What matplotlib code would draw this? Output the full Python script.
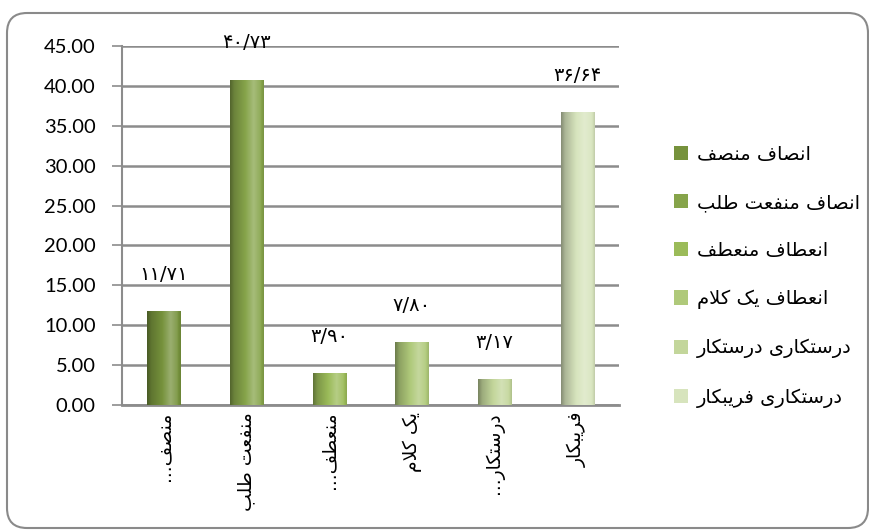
import numpy as np
import matplotlib
matplotlib.use("Agg")
import matplotlib.pyplot as plt
from matplotlib.patches import Patch, FancyBboxPatch
from matplotlib.transforms import IdentityTransform
from matplotlib.colors import to_rgb

# chart data
categories = ["منصف...", "منفعت طلب", "منعطف...", "یک کلام", "درستکار...", "فریبکار"]
series_names = ["انصاف منصف", "انصاف منفعت طلب", "انعطاف منعطف",
                "انعطاف یک کلام", "درستکاری درستکار", "درستکاری فریبکار"]
values = [11.71, 40.73, 3.90, 7.80, 3.17, 36.64]
colors = ["#76923C", "#86A44A", "#9BBB59", "#AFC97A", "#C3D69B", "#D7E4BD"]
y_ticks = [0, 5, 10, 15, 20, 25, 30, 35, 40, 45]

GRID = "#8c8c8c"

# minimal Arabic/Persian shaping: (isolated, final, initial, medial)
FORMS = {
    "ا": (0xFE8D, 0xFE8E, None, None),
    "ب": (0xFE8F, 0xFE90, 0xFE91, 0xFE92),
    "ت": (0xFE95, 0xFE96, 0xFE97, 0xFE98),
    "د": (0xFEA9, 0xFEAA, None, None),
    "ر": (0xFEAD, 0xFEAE, None, None),
    "س": (0xFEB1, 0xFEB2, 0xFEB3, 0xFEB4),
    "ص": (0xFEB9, 0xFEBA, 0xFEBB, 0xFEBC),
    "ط": (0xFEC1, 0xFEC2, 0xFEC3, 0xFEC4),
    "ع": (0xFEC9, 0xFECA, 0xFECB, 0xFECC),
    "ف": (0xFED1, 0xFED2, 0xFED3, 0xFED4),
    "ل": (0xFEDD, 0xFEDE, 0xFEDF, 0xFEE0),
    "م": (0xFEE1, 0xFEE2, 0xFEE3, 0xFEE4),
    "ن": (0xFEE5, 0xFEE6, 0xFEE7, 0xFEE8),
    "ک": (0xFB8E, 0xFB8F, 0xFB90, 0xFB91),
    "ی": (0xFBFC, 0xFBFD, 0xFBFE, 0xFBFF),
}


def shape(text):
    """Join letters into presentation forms and return visual (LTR) order."""
    out = []
    i = 0
    while i < len(text):
        c = text[i]
        if c not in FORMS:
            out.append(c)
            i += 1
            continue
        prev = text[i - 1] if i > 0 else None
        joins_prev = prev in FORMS and FORMS[prev][2] is not None
        if c == "ل" and i + 1 < len(text) and text[i + 1] == "ا":
            out.append(chr(0xFEFC if joins_prev else 0xFEFB))
            i += 2
            continue
        nxt = text[i + 1] if i + 1 < len(text) else None
        joins_next = FORMS[c][2] is not None and nxt in FORMS
        iso, fin, ini, med = FORMS[c]
        if joins_prev and joins_next:
            g = med
        elif joins_prev:
            g = fin
        elif joins_next:
            g = ini
        else:
            g = iso
        out.append(chr(g))
        i += 1
    return "".join(reversed(out))


def persian_number(v):
    s = f"{v:.2f}".replace(".", "/")
    return s.translate(str.maketrans("0123456789", "۰۱۲۳۴۵۶۷۸۹"))


def bar_gradient(color, n=64):
    """Horizontal cylinder-like shading: dark left edge, highlight right of centre."""
    base = np.array(to_rgb(color))
    t = np.linspace(0, 1, n)
    f = np.interp(t, [0, 0.12, 0.45, 0.7, 0.9, 1.0], [0.62, 0.8, 1.0, 1.12, 1.04, 0.9])
    rows = []
    for k in f:
        if k <= 1:
            rows.append(base * k)
        else:
            rows.append(base + (1 - base) * (k - 1) * 2.2)
    return np.clip(np.array(rows), 0, 1)[None, :, :]


fig = plt.figure(figsize=(8.7, 5.3), dpi=100)
ax = fig.add_axes([122 / 870, 1 - 405 / 530, 497 / 870, 359 / 530])

x = np.arange(len(values))
width = 0.4

for xi, v, c in zip(x, values, colors):
    ax.imshow(bar_gradient(c), extent=(xi - width / 2, xi + width / 2, 0, v),
              aspect="auto", zorder=3, interpolation="bilinear")
    ax.annotate(persian_number(v), (xi, v), xytext=(0, 27), textcoords="offset points",
                ha="center", va="center", fontsize=14, family="DejaVu Sans", zorder=4)

ax.set_xlim(-0.5, 5.5)
ax.set_ylim(0, 45)
ax.set_yticks(y_ticks)
ax.set_yticklabels([f"{t:.2f}" for t in y_ticks], family="Lato", fontsize=14.5)
ax.set_xticks(x)
ax.set_xticklabels([shape(c) for c in categories], rotation=90,
                   family="DejaVu Sans", fontsize=13.5, va="top", ha="center")

ax.yaxis.grid(True, color=GRID, linewidth=1.8, zorder=0)
ax.set_axisbelow(True)
ax.tick_params(axis="y", direction="out", length=7, width=1.2, color=GRID, pad=12)
ax.tick_params(axis="x", length=0, pad=5)
for side in ["top", "right"]:
    ax.spines[side].set_visible(False)
ax.spines["left"].set_color(GRID)
ax.spines["left"].set_linewidth(1.5)
ax.spines["bottom"].set_color(GRID)
ax.spines["bottom"].set_linewidth(2)

handles = [Patch(facecolor=c, edgecolor="none") for c in colors]
fig.legend(handles, [shape(s) for s in series_names], loc="upper left",
           bbox_to_anchor=(666 / 870, 1 - 137 / 530), frameon=False,
           prop={"family": "DejaVu Sans", "size": 14},
           handlelength=0.74, handleheight=0.74, handletextpad=0.45,
           labelspacing=1.5, borderaxespad=0)

# rounded chart frame
frame = FancyBboxPatch((7, 2), 861, 515, boxstyle="round,pad=0,rounding_size=20",
                       transform=IdentityTransform(), facecolor="none",
                       edgecolor="#8a8a8a", linewidth=1.5)
fig.add_artist(frame)

fig.savefig("out.png", dpi=100)
